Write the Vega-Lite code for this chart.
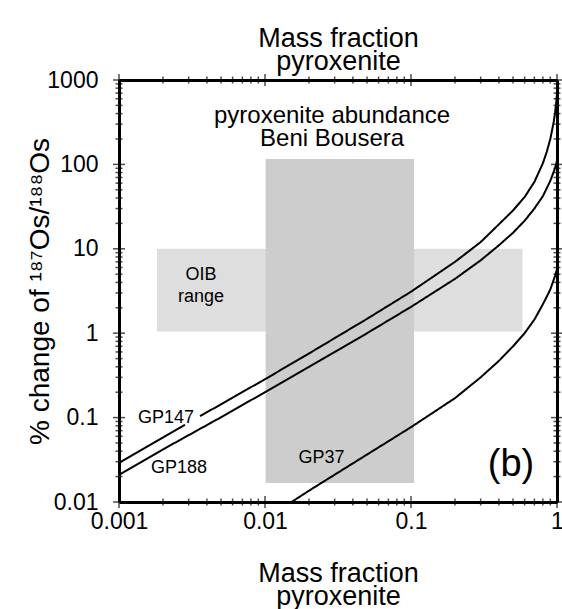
{
  "$schema": "https://vega.github.io/schema/vega-lite/v6.json",
  "width": 438,
  "height": 422,
  "autosize": "none",
  "padding": {"left": 119, "top": 80, "right": 5, "bottom": 107},
  "background": "white",
  "config": {"view": {"stroke": null}, "font": "Liberation Sans"},
  "datasets": {
    "boxes": [
      {"name": "OIB range", "x1": 0.00182, "x2": 0.58, "y1": 1.05, "y2": 10},
      {"name": "Beni Bousera", "x1": 0.0101, "x2": 0.105, "y1": 0.0168, "y2": 116}
    ],
    "xmajor": [{"v": 0.001}, {"v": 0.01}, {"v": 0.1}, {"v": 1}],
    "xminor": [
      {"v": 0.002}, {"v": 0.003}, {"v": 0.004}, {"v": 0.005}, {"v": 0.006}, {"v": 0.007}, {"v": 0.008}, {"v": 0.009},
      {"v": 0.02}, {"v": 0.03}, {"v": 0.04}, {"v": 0.05}, {"v": 0.06}, {"v": 0.07}, {"v": 0.08}, {"v": 0.09},
      {"v": 0.2}, {"v": 0.3}, {"v": 0.4}, {"v": 0.5}, {"v": 0.6}, {"v": 0.7}, {"v": 0.8}, {"v": 0.9}
    ],
    "ymajor": [{"v": 0.01}, {"v": 0.1}, {"v": 1}, {"v": 10}, {"v": 100}, {"v": 1000}],
    "yminor": [
      {"v": 0.02}, {"v": 0.03}, {"v": 0.04}, {"v": 0.05}, {"v": 0.06}, {"v": 0.07}, {"v": 0.08}, {"v": 0.09},
      {"v": 0.2}, {"v": 0.3}, {"v": 0.4}, {"v": 0.5}, {"v": 0.6}, {"v": 0.7}, {"v": 0.8}, {"v": 0.9},
      {"v": 2}, {"v": 3}, {"v": 4}, {"v": 5}, {"v": 6}, {"v": 7}, {"v": 8}, {"v": 9},
      {"v": 20}, {"v": 30}, {"v": 40}, {"v": 50}, {"v": 60}, {"v": 70}, {"v": 80}, {"v": 90},
      {"v": 200}, {"v": 300}, {"v": 400}, {"v": 500}, {"v": 600}, {"v": 700}, {"v": 800}, {"v": 900}
    ],
    "curves": [
      {"curve": "GP147", "seg": "a", "f": 0.001, "v": 0.029},
      {"curve": "GP147", "seg": "a", "f": 0.002, "v": 0.058},
      {"curve": "GP147", "seg": "a", "f": 0.00283, "v": 0.082},
      {"curve": "GP147", "seg": "b", "f": 0.00359, "v": 0.104},
      {"curve": "GP147", "seg": "b", "f": 0.005, "v": 0.144},
      {"curve": "GP147", "seg": "b", "f": 0.01, "v": 0.285},
      {"curve": "GP147", "seg": "b", "f": 0.02, "v": 0.575},
      {"curve": "GP147", "seg": "b", "f": 0.05, "v": 1.48},
      {"curve": "GP147", "seg": "b", "f": 0.1, "v": 3.1},
      {"curve": "GP147", "seg": "b", "f": 0.2, "v": 7.0},
      {"curve": "GP147", "seg": "b", "f": 0.3, "v": 12.0},
      {"curve": "GP147", "seg": "b", "f": 0.4, "v": 19.5},
      {"curve": "GP147", "seg": "b", "f": 0.5, "v": 28.5},
      {"curve": "GP147", "seg": "b", "f": 0.6, "v": 41},
      {"curve": "GP147", "seg": "b", "f": 0.7, "v": 62},
      {"curve": "GP147", "seg": "b", "f": 0.8, "v": 103},
      {"curve": "GP147", "seg": "b", "f": 0.85, "v": 140},
      {"curve": "GP147", "seg": "b", "f": 0.9, "v": 200},
      {"curve": "GP147", "seg": "b", "f": 0.95, "v": 320},
      {"curve": "GP147", "seg": "b", "f": 0.97, "v": 410},
      {"curve": "GP147", "seg": "b", "f": 0.99, "v": 560},
      {"curve": "GP147", "seg": "b", "f": 1.0, "v": 700},
      {"curve": "GP188", "seg": "a", "f": 0.001, "v": 0.021},
      {"curve": "GP188", "seg": "a", "f": 0.002, "v": 0.042},
      {"curve": "GP188", "seg": "a", "f": 0.005, "v": 0.101},
      {"curve": "GP188", "seg": "a", "f": 0.01, "v": 0.2},
      {"curve": "GP188", "seg": "a", "f": 0.02, "v": 0.4},
      {"curve": "GP188", "seg": "a", "f": 0.05, "v": 1.0},
      {"curve": "GP188", "seg": "a", "f": 0.1, "v": 2.05},
      {"curve": "GP188", "seg": "a", "f": 0.2, "v": 4.4},
      {"curve": "GP188", "seg": "a", "f": 0.3, "v": 7.3},
      {"curve": "GP188", "seg": "a", "f": 0.4, "v": 11.0},
      {"curve": "GP188", "seg": "a", "f": 0.5, "v": 15.5},
      {"curve": "GP188", "seg": "a", "f": 0.6, "v": 21.5},
      {"curve": "GP188", "seg": "a", "f": 0.7, "v": 30},
      {"curve": "GP188", "seg": "a", "f": 0.8, "v": 42},
      {"curve": "GP188", "seg": "a", "f": 0.85, "v": 52},
      {"curve": "GP188", "seg": "a", "f": 0.9, "v": 64},
      {"curve": "GP188", "seg": "a", "f": 0.95, "v": 82},
      {"curve": "GP188", "seg": "a", "f": 0.97, "v": 91},
      {"curve": "GP188", "seg": "a", "f": 0.99, "v": 103},
      {"curve": "GP188", "seg": "a", "f": 1.0, "v": 112},
      {"curve": "GP37", "seg": "a", "f": 0.0152, "v": 0.01},
      {"curve": "GP37", "seg": "a", "f": 0.02, "v": 0.0136},
      {"curve": "GP37", "seg": "a", "f": 0.05, "v": 0.0365},
      {"curve": "GP37", "seg": "a", "f": 0.1, "v": 0.077},
      {"curve": "GP37", "seg": "a", "f": 0.2, "v": 0.17},
      {"curve": "GP37", "seg": "a", "f": 0.3, "v": 0.3},
      {"curve": "GP37", "seg": "a", "f": 0.4, "v": 0.47},
      {"curve": "GP37", "seg": "a", "f": 0.5, "v": 0.7},
      {"curve": "GP37", "seg": "a", "f": 0.6, "v": 1.0},
      {"curve": "GP37", "seg": "a", "f": 0.7, "v": 1.45},
      {"curve": "GP37", "seg": "a", "f": 0.8, "v": 2.2},
      {"curve": "GP37", "seg": "a", "f": 0.85, "v": 2.7},
      {"curve": "GP37", "seg": "a", "f": 0.9, "v": 3.3},
      {"curve": "GP37", "seg": "a", "f": 0.95, "v": 4.3},
      {"curve": "GP37", "seg": "a", "f": 0.97, "v": 4.8},
      {"curve": "GP37", "seg": "a", "f": 0.99, "v": 5.4},
      {"curve": "GP37", "seg": "a", "f": 1.0, "v": 5.7}
    ],
    "labels": [
      {"kind": "curve", "text": "GP147", "f": 0.0021, "v": 0.099},
      {"kind": "curve", "text": "GP188", "f": 0.00258, "v": 0.0254},
      {"kind": "curve", "text": "GP37", "f": 0.0244, "v": 0.0332},
      {"kind": "panel", "text": "(b)", "f": 0.484, "v": 0.0275},
      {"kind": "note", "text": "pyroxenite abundance", "f": 0.0288, "v": 374},
      {"kind": "note", "text": "Beni Bousera", "f": 0.0288, "v": 200},
      {"kind": "oib", "text": "OIB", "f": 0.00365, "v": 4.9},
      {"kind": "oib", "text": "range", "f": 0.00365, "v": 2.69}
    ]
  },
  "layer": [
    {
      "data": {"name": "boxes"},
      "transform": [{"filter": "datum.name == 'OIB range'"}],
      "mark": {"type": "rect", "fill": "#dedede", "stroke": null},
      "encoding": {
        "x": {"field": "x1", "type": "quantitative", "scale": {"type": "log", "domain": [0.001, 1]}, "axis": null},
        "x2": {"field": "x2"},
        "y": {"field": "y1", "type": "quantitative", "scale": {"type": "log", "domain": [0.01, 1000]}, "axis": null},
        "y2": {"field": "y2"}
      }
    },
    {
      "data": {"name": "boxes"},
      "transform": [{"filter": "datum.name == 'Beni Bousera'"}],
      "mark": {"type": "rect", "fill": "#cdcdcd", "stroke": null},
      "encoding": {
        "x": {"field": "x1", "type": "quantitative", "scale": {"type": "log", "domain": [0.001, 1]}, "axis": null},
        "x2": {"field": "x2"},
        "y": {"field": "y1", "type": "quantitative", "scale": {"type": "log", "domain": [0.01, 1000]}, "axis": null},
        "y2": {"field": "y2"}
      }
    },
    {
      "data": {"name": "curves"},
      "mark": {"type": "line", "color": "black", "strokeWidth": 2, "clip": true},
      "encoding": {
        "x": {
          "field": "f", "type": "quantitative",
          "scale": {"type": "log", "domain": [0.001, 1]},
          "axis": {
            "orient": "bottom",
            "values": [0.001, 0.01, 0.1, 1],
            "format": "~g",
            "ticks": false,
            "domainColor": "black", "domainWidth": 3,
            "grid": false,
            "labelFont": "Liberation Sans", "labelFontSize": 23, "labelColor": "black",
            "labelPadding": 8, "labelFlush": false, "labelOverlap": false,
            "title": ["Mass fraction", "pyroxenite"],
            "titleFont": "Liberation Sans", "titleFontSize": 27, "titleFontWeight": "normal", "titleColor": "black",
            "titleLineHeight": 23, "titlePadding": 27
          }
        },
        "y": {
          "field": "v", "type": "quantitative",
          "scale": {"type": "log", "domain": [0.01, 1000]},
          "axis": {
            "orient": "left",
            "values": [0.01, 0.1, 1, 10, 100, 1000],
            "format": "~g",
            "ticks": false,
            "domainColor": "black", "domainWidth": 3,
            "grid": false,
            "labelFont": "Liberation Sans", "labelFontSize": 23, "labelColor": "black",
            "labelPadding": 21, "labelFlush": false, "labelOverlap": false,
            "title": "% change of ¹⁸⁷Os/¹⁸⁸Os",
            "titleFont": "Liberation Sans", "titleFontSize": 28, "titleFontWeight": "normal", "titleColor": "black",
            "titlePadding": -8
          }
        },
        "detail": {"field": "curve", "type": "nominal"},
        "order": {"field": "f", "type": "quantitative"},
        "strokeDash": {"field": "seg", "type": "nominal", "legend": null, "scale": {"range": [[1, 0], [1, 0]]}}
      }
    },
    {
      "data": {"name": "curves"},
      "mark": {"type": "point", "opacity": 0},
      "encoding": {
        "x": {
          "field": "f", "type": "quantitative",
          "scale": {"type": "log", "domain": [0.001, 1]},
          "axis": {
            "orient": "top",
            "values": [0.001, 0.01, 0.1, 1],
            "labels": false,
            "ticks": false,
            "domainColor": "black", "domainWidth": 3,
            "grid": false,
            "title": ["Mass fraction", "pyroxenite"],
            "titleFont": "Liberation Sans", "titleFontSize": 27, "titleFontWeight": "normal", "titleColor": "black",
            "titleLineHeight": 23, "titlePadding": 5
          }
        },
        "y": {
          "field": "v", "type": "quantitative",
          "scale": {"type": "log", "domain": [0.01, 1000]},
          "axis": {
            "orient": "right",
            "values": [0.01, 0.1, 1, 10, 100, 1000],
            "labels": false,
            "ticks": false,
            "domainColor": "black", "domainWidth": 3,
            "grid": false,
            "title": null
          }
        }
      }
    },
    {
      "data": {"name": "xmajor"},
      "mark": {"type": "tick", "orient": "vertical", "color": "black", "thickness": 1.5, "size": 12},
      "encoding": {
        "x": {"field": "v", "type": "quantitative", "scale": {"type": "log", "domain": [0.001, 1]}, "axis": null},
        "y": {"datum": 0.01, "type": "quantitative", "scale": {"type": "log", "domain": [0.01, 1000]}, "axis": null}
      }
    },
    {
      "data": {"name": "xminor"},
      "mark": {"type": "tick", "orient": "vertical", "color": "black", "thickness": 1.5, "size": 7},
      "encoding": {
        "x": {"field": "v", "type": "quantitative", "scale": {"type": "log", "domain": [0.001, 1]}, "axis": null},
        "y": {"datum": 0.01, "type": "quantitative", "scale": {"type": "log", "domain": [0.01, 1000]}, "axis": null}
      }
    },
    {
      "data": {"name": "xmajor"},
      "mark": {"type": "tick", "orient": "vertical", "color": "black", "thickness": 1.5, "size": 12},
      "encoding": {
        "x": {"field": "v", "type": "quantitative", "scale": {"type": "log", "domain": [0.001, 1]}, "axis": null},
        "y": {"datum": 1000, "type": "quantitative", "scale": {"type": "log", "domain": [0.01, 1000]}, "axis": null}
      }
    },
    {
      "data": {"name": "xminor"},
      "mark": {"type": "tick", "orient": "vertical", "color": "black", "thickness": 1.5, "size": 7},
      "encoding": {
        "x": {"field": "v", "type": "quantitative", "scale": {"type": "log", "domain": [0.001, 1]}, "axis": null},
        "y": {"datum": 1000, "type": "quantitative", "scale": {"type": "log", "domain": [0.01, 1000]}, "axis": null}
      }
    },
    {
      "data": {"name": "ymajor"},
      "mark": {"type": "tick", "orient": "horizontal", "color": "black", "thickness": 1.5, "size": 12},
      "encoding": {
        "y": {"field": "v", "type": "quantitative", "scale": {"type": "log", "domain": [0.01, 1000]}, "axis": null},
        "x": {"datum": 0.001, "type": "quantitative", "scale": {"type": "log", "domain": [0.001, 1]}, "axis": null}
      }
    },
    {
      "data": {"name": "yminor"},
      "mark": {"type": "tick", "orient": "horizontal", "color": "black", "thickness": 1.5, "size": 7},
      "encoding": {
        "y": {"field": "v", "type": "quantitative", "scale": {"type": "log", "domain": [0.01, 1000]}, "axis": null},
        "x": {"datum": 0.001, "type": "quantitative", "scale": {"type": "log", "domain": [0.001, 1]}, "axis": null}
      }
    },
    {
      "data": {"name": "ymajor"},
      "mark": {"type": "tick", "orient": "horizontal", "color": "black", "thickness": 1.5, "size": 12},
      "encoding": {
        "y": {"field": "v", "type": "quantitative", "scale": {"type": "log", "domain": [0.01, 1000]}, "axis": null},
        "x": {"datum": 1, "type": "quantitative", "scale": {"type": "log", "domain": [0.001, 1]}, "axis": null}
      }
    },
    {
      "data": {"name": "yminor"},
      "mark": {"type": "tick", "orient": "horizontal", "color": "black", "thickness": 1.5, "size": 7},
      "encoding": {
        "y": {"field": "v", "type": "quantitative", "scale": {"type": "log", "domain": [0.01, 1000]}, "axis": null},
        "x": {"datum": 1, "type": "quantitative", "scale": {"type": "log", "domain": [0.001, 1]}, "axis": null}
      }
    },
    {
      "data": {"name": "labels"},
      "transform": [{"filter": "datum.kind == 'curve'"}],
      "mark": {"type": "text", "font": "Liberation Sans", "fontSize": 18, "color": "black", "align": "center", "baseline": "middle"},
      "encoding": {
        "x": {"field": "f", "type": "quantitative", "scale": {"type": "log", "domain": [0.001, 1]}, "axis": null},
        "y": {"field": "v", "type": "quantitative", "scale": {"type": "log", "domain": [0.01, 1000]}, "axis": null},
        "text": {"field": "text"}
      }
    },
    {
      "data": {"name": "labels"},
      "transform": [{"filter": "datum.kind == 'panel'"}],
      "mark": {"type": "text", "font": "Liberation Sans", "fontSize": 38, "color": "black", "align": "center", "baseline": "middle"},
      "encoding": {
        "x": {"field": "f", "type": "quantitative", "scale": {"type": "log", "domain": [0.001, 1]}, "axis": null},
        "y": {"field": "v", "type": "quantitative", "scale": {"type": "log", "domain": [0.01, 1000]}, "axis": null},
        "text": {"field": "text"}
      }
    },
    {
      "data": {"name": "labels"},
      "transform": [{"filter": "datum.kind == 'note'"}],
      "mark": {"type": "text", "font": "Liberation Sans", "fontSize": 24, "color": "black", "align": "center", "baseline": "middle"},
      "encoding": {
        "x": {"field": "f", "type": "quantitative", "scale": {"type": "log", "domain": [0.001, 1]}, "axis": null},
        "y": {"field": "v", "type": "quantitative", "scale": {"type": "log", "domain": [0.01, 1000]}, "axis": null},
        "text": {"field": "text"}
      }
    },
    {
      "data": {"name": "labels"},
      "transform": [{"filter": "datum.kind == 'oib'"}],
      "mark": {"type": "text", "font": "Liberation Sans", "fontSize": 18, "color": "black", "align": "center", "baseline": "middle"},
      "encoding": {
        "x": {"field": "f", "type": "quantitative", "scale": {"type": "log", "domain": [0.001, 1]}, "axis": null},
        "y": {"field": "v", "type": "quantitative", "scale": {"type": "log", "domain": [0.01, 1000]}, "axis": null},
        "text": {"field": "text"}
      }
    }
  ],
  "resolve": {"axis": {"x": "independent", "y": "independent"}}
}
